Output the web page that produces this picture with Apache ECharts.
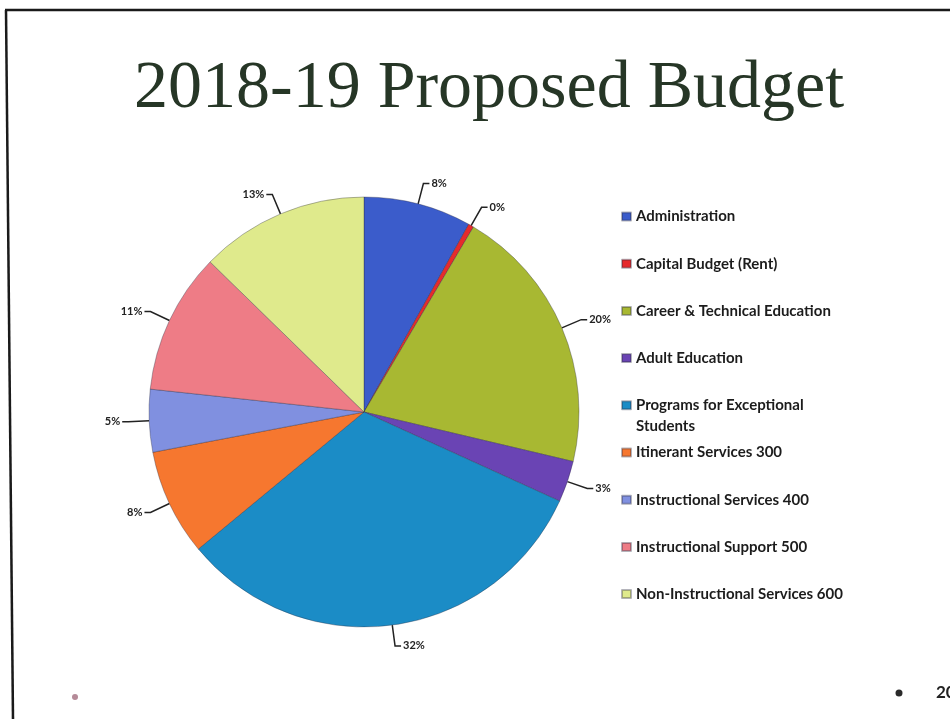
<!DOCTYPE html>
<html>
<head>
<meta charset="utf-8">
<title>2018-19 Proposed Budget</title>
<script src="https://cdn.jsdelivr.net/npm/echarts@6/dist/echarts.min.js"></script>
<style>
  html, body { margin: 0; padding: 0; background: #ffffff; }
  #chart { width: 950px; height: 719px; }
</style>
</head>
<body>
<div id="chart"></div>
<script>
// Budget categories, in the order they are drawn (clockwise from 12 o'clock)
const categories = [
  'Administration',
  'Capital Budget (Rent)',
  'Career & Technical Education',
  'Adult Education',
  'Programs for Exceptional Students',
  'Itinerant Services 300',
  'Instructional Services 400',
  'Instructional Support 500',
  'Non-Instructional Services 600'
];

// Share of the budget, percent
const shares = [8.1, 0.4, 20.2, 3.1, 32.2, 8.0, 4.7, 10.6, 12.7];

// Slice colours
const palette = [
  '#3b5ccb', '#e62a2c', '#a8b832', '#6a44b4', '#1b8cc6',
  '#f6772f', '#8090e0', '#ee7c86', '#dfea8c'
];

const titleText = '2018-19 Proposed Budget';

const chart = echarts.init(document.getElementById('chart'), null, { renderer: 'canvas' });

const pieData = categories.map((name, i) => ({
  name: name,
  value: shares[i],
  itemStyle: { color: palette[i] }
}));

// One legend block per category so a wrapped name keeps the even spacing
const legendTop0 = 201;
const legendPitch = 47.2;
const wrapped = 'Programs for Exceptional Students';
const legends = categories.map((name, i) => {
  const isWrapped = name === wrapped;
  return {
    show: true,
    data: [name],
    orient: 'vertical',
    left: 616,
    top: legendTop0 + i * legendPitch,
    itemWidth: 9,
    itemHeight: isWrapped ? 29 : 8,
    itemGap: 0,
    selectedMode: false,
    symbolKeepAspect: false,
    // a wrapped name keeps its swatch beside the first line
    icon: isWrapped ? 'path://M0 0H9V8H0Z M0 29' : 'rect',
    formatter: n => n === wrapped ? 'Programs for Exceptional\nStudents' : n,
    textStyle: {
      fontFamily: 'Lato',
      fontWeight: 'bold',
      fontSize: 15,
      color: '#1c1c1c',
      lineHeight: 21
    }
  };
});

chart.setOption({
  backgroundColor: '#ffffff',
  animation: false,
  title: {
    text: titleText,
    left: 129,
    top: 50,
    textStyle: {
      fontFamily: 'Liberation Serif',
      fontWeight: 'normal',
      fontSize: 68,
      color: '#263626'
    }
  },
  legend: legends,
  graphic: [
    { type: 'line', shape: { x1: 5, y1: 10, x2: 950, y2: 10 },
      style: { stroke: '#1a1a1a', lineWidth: 2.5 } },
    { type: 'line', shape: { x1: 6, y1: 10, x2: 13, y2: 719 },
      style: { stroke: '#1a1a1a', lineWidth: 2.5 } },
    { type: 'circle', shape: { cx: 75, cy: 697, r: 3 },
      style: { fill: '#b58a98' } },
    { type: 'circle', shape: { cx: 899, cy: 693, r: 3.5 },
      style: { fill: '#2a2a2a' } },
    { type: 'text', left: 936, top: 684,
      style: { text: '20', fontFamily: 'Lato', fontWeight: 'bold',
               fontSize: 17, fill: '#222' } }
  ],
  series: [{
    type: 'pie',
    center: [364, 412],
    radius: 215,
    startAngle: 90,
    clockwise: true,
    avoidLabelOverlap: false,
    data: pieData,
    itemStyle: { borderColor: 'rgba(40,40,60,0.35)', borderWidth: 1 },
    label: {
      show: true,
      position: 'outside',
      formatter: p => Math.round(p.value) + '%',
      fontFamily: 'Lato',
      fontWeight: 'bold',
      fontSize: 11,
      color: '#222',
      distanceToLabelLine: 2
    },
    labelLine: {
      show: true,
      length: 21,
      length2: 6,
      smooth: false,
      lineStyle: { color: '#222', width: 1.5 }
    },
    emphasis: { disabled: true }
  }]
});
</script>
</body>
</html>
